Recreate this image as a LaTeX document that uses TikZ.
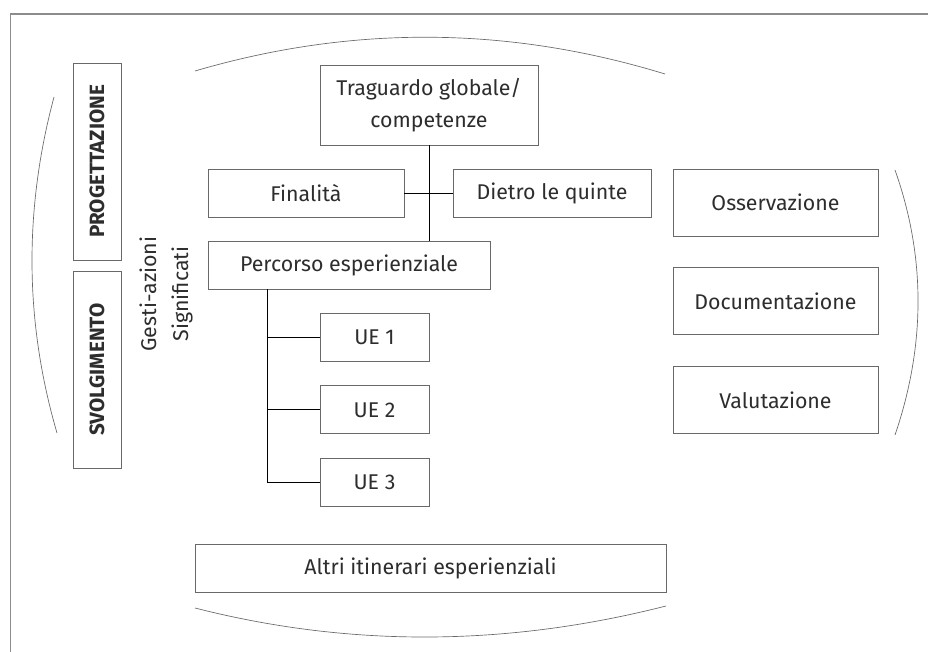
\documentclass[tikz,border=0pt]{standalone}
\usepackage{fontspec}
\setmainfont{Fira Sans}
\usetikzlibrary{positioning}
\definecolor{framegray}{RGB}{140,140,140}
\definecolor{boxgray}{RGB}{105,105,105}
\definecolor{textgray}{RGB}{45,45,45}
\newdimen\pxu
\pxu=0.75pt

\tikzset{
  box/.style={draw=boxgray, line width=0.6pt, text=textgray, inner sep=0pt,
    font=\fontsize{16}{18}\selectfont},
  sidebox/.style={box, rotate=90, minimum width=197\pxu, minimum height=48\pxu,
    font=\bfseries\fontsize{15.5}{18}\selectfont},
  evalbox/.style={box, minimum width=205\pxu, minimum height=67\pxu},
  uebox/.style={box, minimum width=109\pxu, minimum height=48\pxu},
  link/.style={draw=black, line width=0.7pt},
  bow/.style={draw=boxgray, line width=0.5pt},
}

\begin{document}
\begin{tikzpicture}[x=0.75pt,y=-0.75pt]
        \useasboundingbox (0,0) rectangle (928,652);
        \fill[white] (0,0) rectangle (928,652);

        % frame
        \draw[framegray, line width=1.1pt] (10.5,652) |- (928,14);

        % bows
        \draw[bow] (195,71) .. controls (351.7,25) and (508.3,26) .. (665,74);
        \draw[bow] (195,608) .. controls (349,647.3) and (506,646.7) .. (666,606);
        \draw[bow] (54,97) .. controls (23.7,210.3) and (24.7,322.3) .. (57,433);
        \draw[bow] (895,170) .. controls (925.7,256.7) and (925.7,345) .. (895,435);

        % left side
        \node[sidebox] (prog) at (97,161.5) {PROGETTAZIONE};
        \node[sidebox] (svol) at (97,369.5) {SVOLGIMENTO};
        \node[rotate=90, align=center, text=textgray, font=\fontsize{16}{24}\selectfont]
          (gesti) at (166,294) {Gesti-azioni\\Significati};

        % tree
        \node[box, minimum width=218\pxu, minimum height=80\pxu, align=center,
          font=\fontsize{16}{24}\selectfont] (trag) at (429,105) {Traguardo globale/\\competenze};
        \node[box, minimum width=196\pxu, minimum height=48\pxu] (fin) at (306,193) {Finalità};
        \node[box, minimum width=198\pxu, minimum height=48\pxu] (dietro) at (552,193) {Dietro le quinte};
        \node[box, minimum width=282\pxu, minimum height=48\pxu] (perc) at (349,265) {Percorso esperienziale};
        \node[uebox] (ue1) at (374.5,337) {UE 1};
        \node[uebox, below=24\pxu of ue1] (ue2) {UE 2};
        \node[uebox, below=24\pxu of ue2] (ue3) {UE 3};

        \draw[link] (trag.south) -- (trag.south |- perc.north);
        \draw[link] (fin.east) -- (dietro.west);
        \draw[link] (perc.south west) ++(60,0) coordinate (spine) |- (ue3.west);
        \draw[link] (spine |- ue1.west) -- (ue1.west);
        \draw[link] (spine |- ue2.west) -- (ue2.west);

        % right side
        \node[evalbox] (oss) at (775.5,202.5) {Osservazione};
        \node[evalbox, below=31\pxu of oss] (doc) {Documentazione};
        \node[evalbox, below=31\pxu of doc] (val) {Valutazione};

        % bottom
        \node[box, minimum width=471\pxu, minimum height=48\pxu] (altri) at (430.5,568) {Altri itinerari esperienziali};
    \end{tikzpicture}
\end{document}
